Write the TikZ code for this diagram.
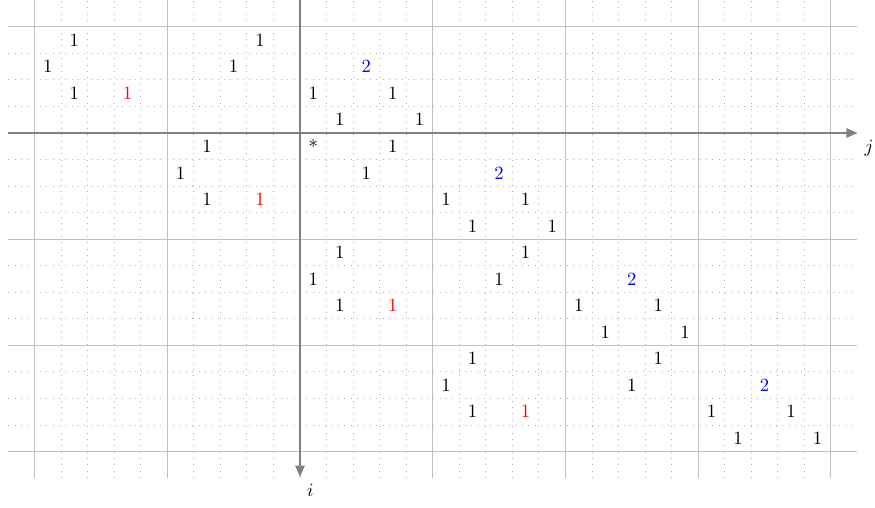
\documentclass[tikz,border=0pt]{standalone}
\usepackage{amssymb}
\usepackage{amsmath}
\usepackage{tikz}
\usetikzlibrary{arrows.meta}
\tikzset{
  >={Triangle[length=6pt, width=5pt]},
  fine grid/.style={gray!60, line width=0.5pt, dash pattern=on 0.5pt off 2.9pt},
  block grid/.style={gray!50, line width=0.5pt},
  axis/.style={->, draw=gray, line width=1pt},
  entry/.style={inner sep=1pt},
  pivot/.style={entry, text=red},
  diag/.style={entry, text=blue},
}

\begin{document}
\begin{tikzpicture}[x=0.5cm, y=0.5cm]
    \useasboundingbox (-11.30,-14.12) rectangle (21.66,5.01);
    \draw[fine grid]  (-10.99,-12.99) grid[step=0.5cm] (20.99,4.99);
    \draw[block grid] (-11,-13) grid[xstep=2.5cm, ystep=2cm] (21,5);

    \coordinate (jfrom) at (-11,0);
    \coordinate (jto)   at (21,0);
    \coordinate (ifrom) at (0,5.01);
    \coordinate (ito)   at (0,-12.95);
    \draw[axis] (jfrom) -- (jto) node[below right, text=black] {$j$};
    \draw[axis] (ifrom) -- (ito) node[below right, text=black] {$i$};

    \node[entry] (n1)  at (-8.5,3.5)   {1};
    \node[entry] (n2)  at (-1.5,3.5)   {1};
    \node[entry] (n3)  at (-9.5,2.5)   {1};
    \node[entry] (n4)  at (-2.5,2.5)   {1};
    \node[diag]  (n5)  at (2.5,2.5)    {2};
    \node[entry] (n6)  at (-8.5,1.5)   {1};
    \node[pivot] (n7)  at (-6.5,1.5)   {1};
    \node[entry] (n8)  at (0.5,1.5)    {1};
    \node[entry] (n9)  at (3.5,1.5)    {1};
    \node[entry] (n10) at (1.5,0.5)    {1};
    \node[entry] (n11) at (4.5,0.5)    {1};
    \node[entry] (n12) at (-3.5,-0.5)  {1};
    \node[entry] (s)   at (0.5,-0.5)   {*};
    \node[entry] (n13) at (3.5,-0.5)   {1};
    \node[entry] (n14) at (-4.5,-1.5)  {1};
    \node[entry] (n15) at (2.5,-1.5)   {1};
    \node[diag]  (n16) at (7.5,-1.5)   {2};
    \node[entry] (n17) at (-3.5,-2.5)  {1};
    \node[pivot] (n18) at (-1.5,-2.5)  {1};
    \node[entry] (n19) at (5.5,-2.5)   {1};
    \node[entry] (n20) at (8.5,-2.5)   {1};
    \node[entry] (n21) at (6.5,-3.5)   {1};
    \node[entry] (n22) at (9.5,-3.5)   {1};
    \node[entry] (n23) at (1.5,-4.5)   {1};
    \node[entry] (n24) at (8.5,-4.5)   {1};
    \node[entry] (n25) at (0.5,-5.5)   {1};
    \node[entry] (n26) at (7.5,-5.5)   {1};
    \node[diag]  (n27) at (12.5,-5.5)  {2};
    \node[entry] (n28) at (1.5,-6.5)   {1};
    \node[pivot] (n29) at (3.5,-6.5)   {1};
    \node[entry] (n30) at (10.5,-6.5)  {1};
    \node[entry] (n31) at (13.5,-6.5)  {1};
    \node[entry] (n32) at (11.5,-7.5)  {1};
    \node[entry] (n33) at (14.5,-7.5)  {1};
    \node[entry] (n34) at (6.5,-8.5)   {1};
    \node[entry] (n35) at (13.5,-8.5)  {1};
    \node[entry] (n36) at (5.5,-9.5)   {1};
    \node[entry] (n37) at (12.5,-9.5)  {1};
    \node[diag]  (n38) at (17.5,-9.5)  {2};
    \node[entry] (n39) at (6.5,-10.5)  {1};
    \node[pivot] (n40) at (8.5,-10.5)  {1};
    \node[entry] (n41) at (15.5,-10.5) {1};
    \node[entry] (n42) at (18.5,-10.5) {1};
    \node[entry] (n43) at (16.5,-11.5) {1};
    \node[entry] (n44) at (19.5,-11.5) {1};
  \end{tikzpicture}
\end{document}
